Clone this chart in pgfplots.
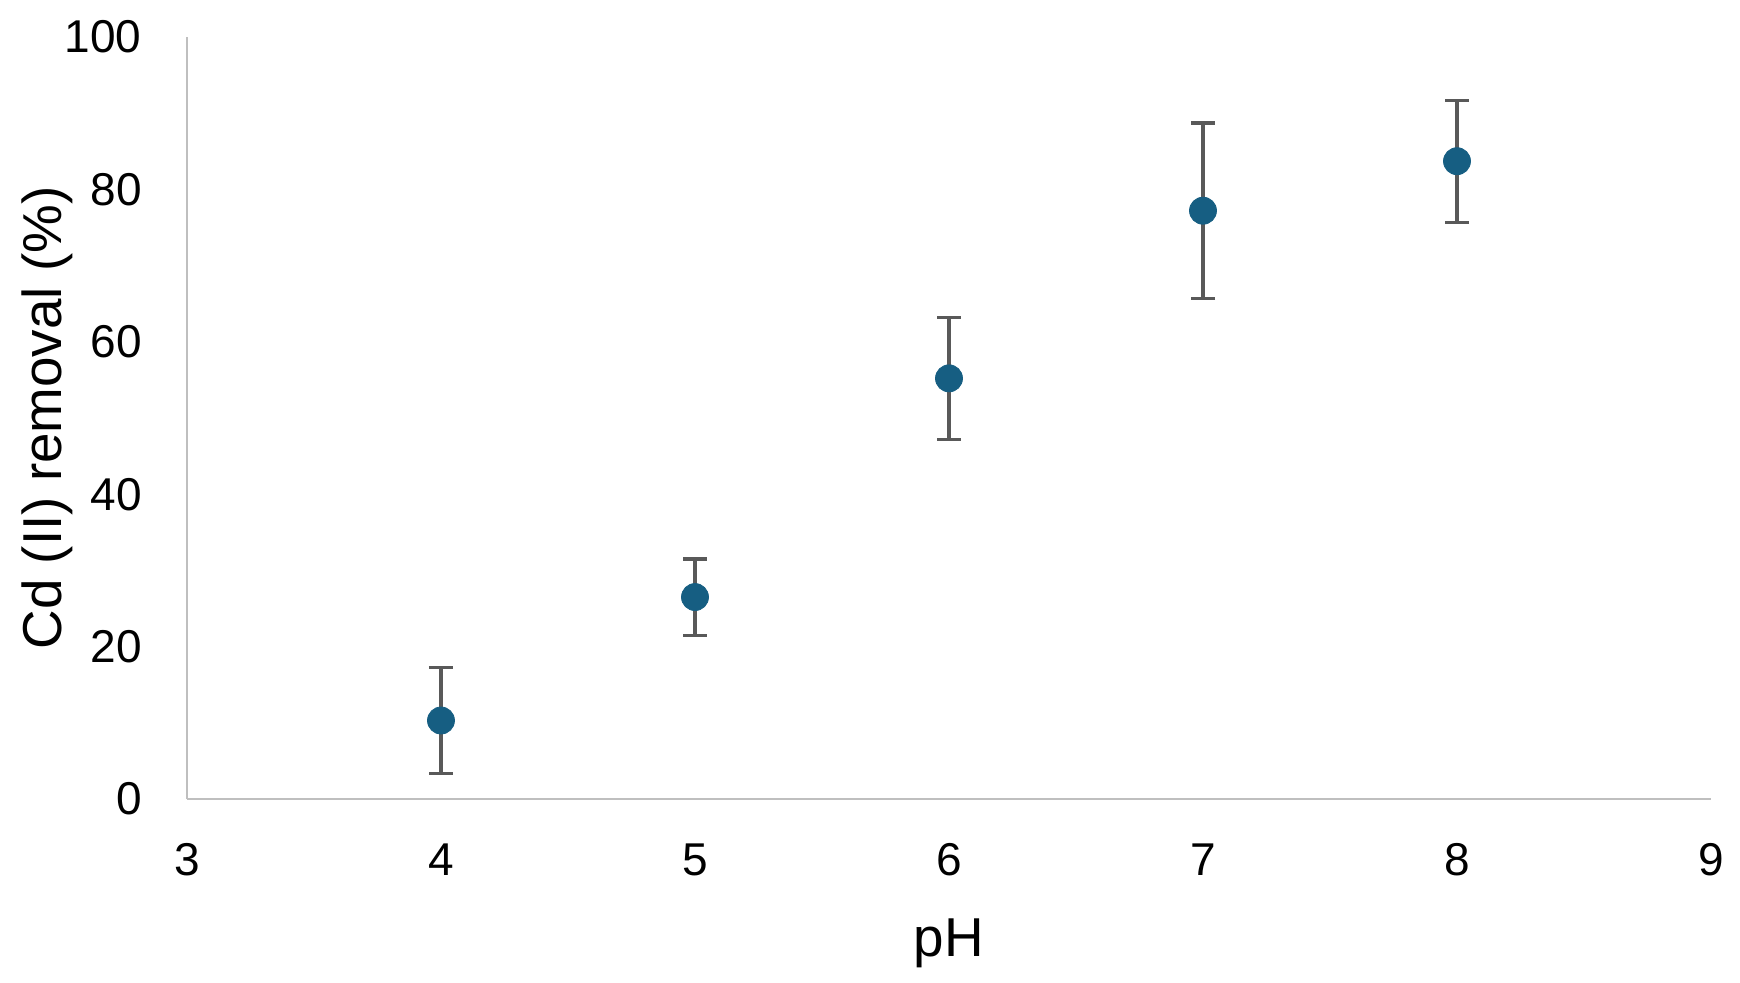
\documentclass[border=0pt]{standalone}
\usepackage{fontspec}
\setmainfont{Liberation Sans}
\usepackage{pgfplots}
\pgfplotsset{compat=1.18}
\definecolor{markblue}{RGB}{22,94,130}
\definecolor{errgray}{RGB}{89,89,89}
\definecolor{axgray}{RGB}{191,191,191}
\begin{document}
\begin{tikzpicture}
\begin{axis}[
  scale only axis,
  width=762pt, height=381pt,
  xmin=3, xmax=9, ymin=0, ymax=100,
  xtick={3,4,5,6,7,8,9},
  ytick={0,20,40,60,80,100},
  axis x line*=bottom, axis y line*=left,
  axis line style={axgray, line width=1.3pt},
  x axis line style={-}, y axis line style={-},
  major tick length=0pt,
  /pgf/number format/assume math mode=true,
  tick label style={font=\fontsize{23}{27}\selectfont, inner sep=0pt},
  xticklabel style={anchor=center, yshift=-30.5pt},
  yticklabel style={anchor=east, xshift=-22.5pt},
  xlabel={pH}, ylabel={Cd (II) removal (\%)},
  label style={font=\fontsize{27.4}{32}\selectfont},
  xlabel style={at={(axis description cs:0.5,0)}, anchor=center, yshift=-72pt},
  ylabel style={at={(axis description cs:0,0.5)}, anchor=center, yshift=70pt},
  clip=false,
]
\addplot[only marks, mark=*, mark size=6.75pt,
  mark options={fill=markblue, draw=markblue},
  error bars/.cd, y dir=both, y explicit,
  error bar style={errgray, line width=1.6pt},
  error mark options={errgray, line width=1.6pt, mark size=6pt, rotate=90}]
  table[x=x, y=y, y error=e] {
x y e
4 10.3 7.0
5 26.5 5.0
6 55.2 8.0
7 77.2 11.5
8 83.7 8.0
};
\end{axis}
\path (-93.5pt,-92pt) rectangle (776.5pt,399.5pt);
\end{tikzpicture}
\end{document}
